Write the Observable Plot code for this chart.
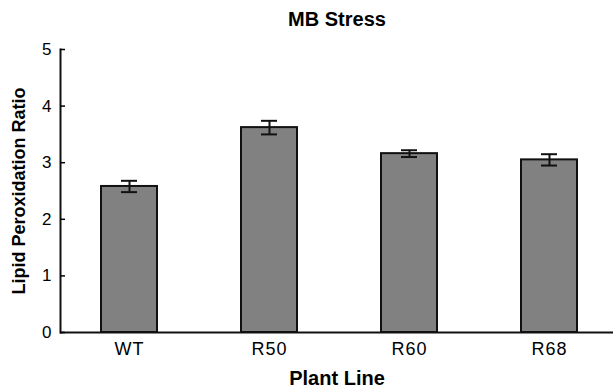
<!DOCTYPE html>
<html>
<head>
<meta charset="utf-8">
<script src="https://cdn.jsdelivr.net/npm/d3@7"></script>
<script src="https://cdn.jsdelivr.net/npm/@observablehq/plot@0.6"></script>
<style>
  html, body { margin: 0; padding: 0; background: #fff; }
  svg { display: block; }
  g[aria-label="y-axis tick label"] { font-size: 17px !important; }
  g[aria-label="x-axis tick label"] { font-size: 18px !important; letter-spacing: 1px; }
  g[aria-label="chart-title"] text { letter-spacing: 1px; }
  g[aria-label="x-label"] text { letter-spacing: 1.4px; }
  g[aria-label="y-label"] text { letter-spacing: 1.5px; }
</style>
</head>
<body>
<div id="chart"></div>
<script>
const lines = ["WT", "R50", "R60", "R68"];
const means = [2.58, 3.62, 3.16, 3.05];
const errors = [0.1, 0.12, 0.06, 0.1];
const yTicks = [0, 1, 2, 3, 4, 5];
const title = "MB Stress";
const xLabel = "Plant Line";
const yLabel = "Lipid Peroxidation Ratio";

const data = lines.map((l, i) => ({line: l, mean: means[i], lo: means[i] - errors[i], hi: means[i] + errors[i]}));
const font = "Liberation Sans, Arial, Helvetica, sans-serif";

const chart = Plot.plot({
  width: 613,
  height: 389,
  marginLeft: 60,
  marginRight: 0,
  marginTop: 49,
  marginBottom: 57,
  style: {fontFamily: font, background: "#fff", color: "#000"},
  x: {domain: lines, range: [60, 617], padding: 0.6, paddingOuter: 0.285},
  y: {domain: [0, 5]},
  marks: [
    Plot.barY(data, {x: "line", y: "mean", fill: "#818181", stroke: "#111", strokeWidth: 2}),
    Plot.ruleX(data, {x: "line", y1: "lo", y2: "hi", stroke: "#111", strokeWidth: 2}),
    Plot.tickY(data, {x: "line", y: "lo", stroke: "#111", strokeWidth: 2, insetLeft: 20, insetRight: 20}),
    Plot.tickY(data, {x: "line", y: "hi", stroke: "#111", strokeWidth: 2, insetLeft: 20, insetRight: 20}),
    Plot.ruleY([0], {stroke: "#111", strokeWidth: 2}),
    Plot.frame({anchor: "left", stroke: "#111", strokeWidth: 2}),
    Plot.axisY({ticks: yTicks, tickSize: -5, tickPadding: 14, fontSize: 17, tickFormat: d => String(d), label: null, strokeWidth: 1.5}),
    Plot.axisX({tickSize: 0, tickPadding: 10, fontSize: 18, label: null}),
    Plot.text([title], {ariaLabel: "chart-title", frameAnchor: "top", lineAnchor: "middle", dy: -30, fontSize: 20, fontWeight: "bold", fill: "#000"}),
    Plot.text([xLabel], {ariaLabel: "x-label", frameAnchor: "bottom", lineAnchor: "middle", dy: 46, fontSize: 20, fontWeight: "bold", fill: "#000"}),
    Plot.text([yLabel], {ariaLabel: "y-label", frameAnchor: "left", textAnchor: "middle", lineAnchor: "middle", dx: -41, rotate: -90, fontSize: 18, fontWeight: "bold", fill: "#000"})
  ]
});
document.getElementById("chart").appendChild(chart);
</script>
</body>
</html>
